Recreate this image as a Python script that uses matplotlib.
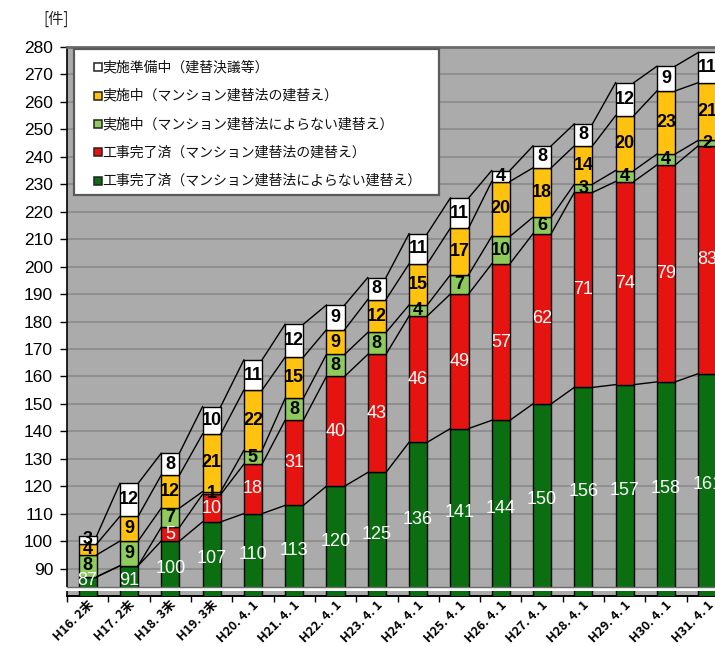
import matplotlib
matplotlib.use("Agg")
import matplotlib.pyplot as plt
import matplotlib.transforms as mtransforms
from matplotlib.patches import Rectangle
import numpy as np

plt.rcParams['font.family'] = ['Noto Sans CJK JP', 'DejaVu Sans']

# ---- data -------------------------------------------------------------
dates = ["H16. 2末", "H17. 2末", "H18. 3末", "H19. 3末", "H20. 4. 1",
         "H21. 4. 1", "H22. 4. 1", "H23. 4. 1", "H24. 4. 1", "H25. 4. 1",
         "H26. 4. 1", "H27. 4. 1", "H28. 4. 1", "H29. 4. 1", "H30. 4. 1",
         "H31. 4. 1"]

# stacked from bottom to top
done_other = [87, 91, 100, 107, 110, 113, 120, 125, 136, 141, 144, 150, 156, 157, 158, 161]
done_act = [0, 0, 5, 10, 18, 31, 40, 43, 46, 49, 57, 62, 71, 74, 79, 83]
ongoing_other = [8, 9, 7, 1, 5, 8, 8, 8, 4, 7, 10, 6, 3, 4, 4, 2]
ongoing_act = [4, 9, 12, 21, 22, 15, 9, 12, 15, 17, 20, 18, 14, 20, 23, 21]
preparing = [3, 12, 8, 10, 11, 12, 9, 8, 11, 11, 4, 8, 8, 12, 9, 11]

series_names = [
    "工事完了済（マンション建替法によらない建替え）",
    "工事完了済（マンション建替法の建替え）",
    "実施中（マンション建替法によらない建替え）",
    "実施中（マンション建替法の建替え）",
    "実施準備中（建替決議等）",
]
y_ticks = list(range(90, 281, 10))

# ---- styling ----------------------------------------------------------
colors = ["#0b6f12", "#e61410", "#8ccb5c", "#ffc20e", "#ffffff"]
label_colors = ["white", "white", "black", "black", "black"]
label_weights = ["normal", "normal", "bold", "bold", "bold"]
num_font = ['Liberation Sans Narrow', 'Liberation Sans', 'DejaVu Sans']

YMIN, YMAX = 80, 280
BAND_LO, BAND_HI = 81.8, 83.4
BAR_W = 0.44

fig = plt.figure(figsize=(7.15, 6.46), dpi=100)
ax = fig.add_axes([67 / 715, 50 / 646, 661 / 715, 549 / 646])
ax.set_facecolor("#ababab")

stack = [done_other, done_act, ongoing_other, ongoing_act, preparing]
x = np.arange(len(dates))
bottom = np.zeros(len(dates))
for k, vals in enumerate(stack):
    vals = np.asarray(vals, dtype=float)
    ax.bar(x, vals, bottom=bottom, width=BAR_W, color=colors[k],
           edgecolor="black", linewidth=1.0, zorder=3)
    for i, v in enumerate(vals):
        if v <= 0:
            continue
        lo = max(bottom[i], YMIN)
        hi = bottom[i] + v
        yc = (lo + hi) / 2
        if k == 0:
            yc = max(yc, BAND_HI + 2.4)
        ax.text(x[i], yc, f"{int(v)}", ha="center", va="center",
                color=label_colors[k], fontsize=13, fontweight=label_weights[k],
                family=num_font, zorder=5)
    bottom = bottom + vals

# series lines joining the cumulative tops of neighbouring bars
cum = np.cumsum(np.asarray(stack, dtype=float), axis=0)
for level in cum:
    for i in range(len(x) - 1):
        ax.plot([x[i] + BAR_W / 2, x[i + 1] - BAR_W / 2],
                [level[i], level[i + 1]], color="black", lw=1.0, zorder=4)

ax.set_xlim(-0.5, len(dates) - 0.5)
ax.set_ylim(YMIN, YMAX)

ax.set_yticks(y_ticks)
ax.set_yticklabels([str(t) for t in y_ticks], family=['Liberation Sans', 'DejaVu Sans'],
                   fontsize=12.5)
ax.tick_params(axis="y", length=5, width=1, color="black", pad=5, direction="out")
ax.yaxis.grid(True, color="#8c8c8c", linewidth=1.3)
ax.set_axisbelow(True)

ax.set_xticks(x)
ax.set_xticklabels(dates, rotation=45, ha="right", va="center",
                   rotation_mode="anchor", fontsize=9, fontweight="bold")
ax.tick_params(axis="x", which="major", length=0, pad=5)
ax.set_xticks(np.arange(-0.5, len(dates), 1), minor=True)
ax.tick_params(axis="x", which="minor", length=4, width=1, color="black", direction="out")
shift = mtransforms.ScaledTranslation(4 / 100, 0, fig.dpi_scale_trans)
for lbl in ax.get_xticklabels():
    lbl.set_transform(lbl.get_transform() + shift)

ax.spines["right"].set_visible(False)
ax.spines["top"].set_color("#6a6a6a")
ax.spines["top"].set_linewidth(2)
ax.spines["left"].set_color("black")
ax.spines["left"].set_linewidth(1.2)
ax.spines["bottom"].set_color("black")
ax.spines["bottom"].set_linewidth(1.4)

# axis break band near the bottom
blend = mtransforms.blended_transform_factory(ax.transAxes, ax.transData)
ax.add_patch(Rectangle((-0.012, BAND_LO), 1.03, BAND_HI - BAND_LO, transform=blend,
                       facecolor="white", edgecolor="none", zorder=6, clip_on=False))
ax.plot([0, 1], [BAND_HI, BAND_HI], transform=blend, color="#6a6a6a", lw=1.0,
        zorder=6, clip_on=False)

# legend box (top-left, entries listed top series first)
ax.add_patch(Rectangle((0.011, 0.731), 0.552, 0.265, transform=ax.transAxes,
                       facecolor="white", edgecolor="#5a5a5a", linewidth=1.6, zorder=7))
row_y = [0.963, 0.911, 0.859, 0.808, 0.756]
for r, k in enumerate(range(len(series_names) - 1, -1, -1)):
    ax.plot([0.0475], [row_y[r]], marker="s", markersize=5.5, markerfacecolor=colors[k],
            markeredgecolor="#222222", markeredgewidth=1.1, transform=ax.transAxes,
            zorder=8, linestyle="none")
    ax.text(0.054, row_y[r], series_names[k], transform=ax.transAxes, ha="left",
            va="center", fontsize=10, color="#111111", zorder=8)

fig.text(56 / 715, 1 - 19 / 646, "[件]", ha="center", va="center", fontsize=11,
         color="#222222")

fig.savefig("out.png", dpi=100)
